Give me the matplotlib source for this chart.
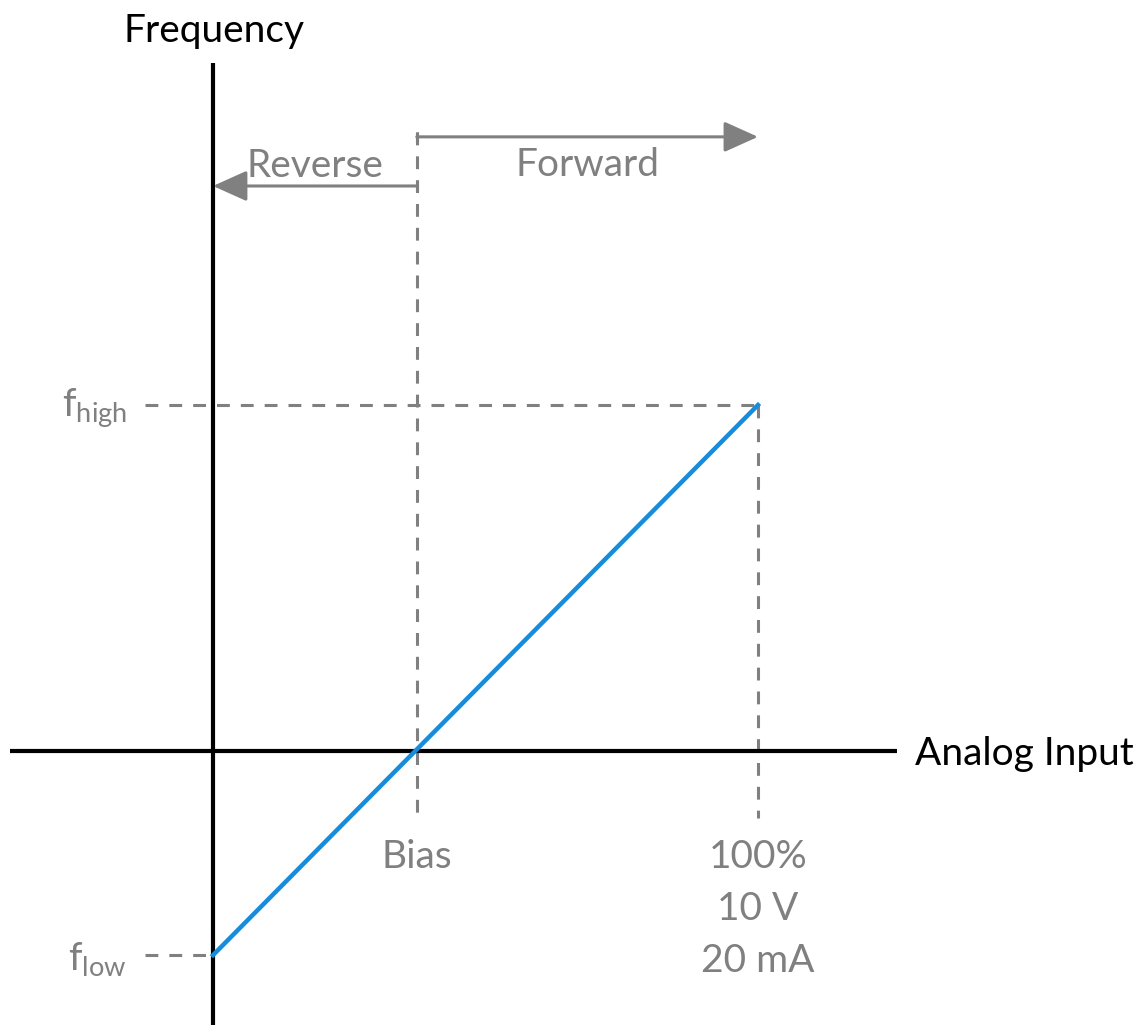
## Import all necessary packages
import matplotlib
matplotlib.use('Agg')
import matplotlib.pyplot as plt
from matplotlib.patches import FancyArrowPatch

## Fonts
plt.rcParams['font.family'] = ['Lato', 'DejaVu Sans']
plt.rcParams['mathtext.fontset'] = 'custom'
plt.rcParams['mathtext.rm'] = 'Lato'
plt.rcParams['mathtext.it'] = 'Lato'

## Data (x: % of analog input, y: frequency, 0 = axis)
input_pts = [0, 100]
freq_pts = [-59, 100]
bias = 37.4
f_high = 100
f_low = -59
x_labels = ['Bias', '100%\n10 V\n20 mA']
y_labels = ['$\\mathrm{f}_{\\mathrm{high}}$', '$\\mathrm{f}_{\\mathrm{low}}$']

gray = '#808080'
blue = '#158cdc'
fs = 28

## Figure covering the whole canvas
fig = plt.figure(figsize=(11.44, 10.25), dpi=100)
ax = fig.add_axes([0, 0, 1, 1])
ax.set_xlim(-39.08, 170.83)
ax.set_ylim(-79.19, 217.05)
ax.axis('off')

## Axes lines
ax.plot([-37.2, 125.5], [0, 0], color='black', lw=3, solid_capstyle='butt', zorder=3)
ax.plot([0, 0], [-79.2, 198.8], color='black', lw=3, solid_capstyle='butt', zorder=3)

## Dashed guide lines
dash = (0, (4.2, 3.6))
ax.plot([bias, bias], [178.9, -19.4], color=gray, lw=2.2, linestyle=dash, zorder=2)
ax.plot([input_pts[1], input_pts[1]], [f_high, -19.4], color=gray, lw=2.2, linestyle=dash, zorder=2)
ax.plot([-12.5, input_pts[1]], [f_high, f_high], color=gray, lw=2.2, linestyle=dash, zorder=2)
ax.plot([-12.5, 0], [f_low, f_low], color=gray, lw=2.2, linestyle=dash, zorder=2)

## Transfer line
ax.plot(input_pts, freq_pts, color=blue, lw=3.2, zorder=4)

## Forward / Reverse arrows
for y0, x1 in [(177.5, 100), (163.3, 0)]:
    arr = FancyArrowPatch((bias, y0), (x1, y0), arrowstyle='-|>,head_length=1.0,head_width=0.45',
                          mutation_scale=21, color=gray, lw=2.2, shrinkA=0, shrinkB=0, zorder=3)
    ax.add_patch(arr)
    ax.plot([bias, bias], [y0 - 1.5, y0 + 1.5], color=gray, lw=2.2, solid_capstyle='butt', zorder=3)

## Texts
ax.text(0.2, 204.9, 'Frequency', fontsize=fs, ha='center', va='baseline', color='black')
ax.text(128.8, -4.0, 'Analog Input', fontsize=fs, ha='left', va='baseline', color='black')
ax.text(18.7, 165.9, 'Reverse', fontsize=fs, ha='center', va='baseline', color=gray)
ax.text(68.8, 166.2, 'Forward', fontsize=fs, ha='center', va='baseline', color=gray)
ax.text(bias, -33.8, x_labels[0], fontsize=fs, ha='center', va='baseline', color=gray)
for i, line in enumerate(x_labels[1].split('\n')):
    ax.text(input_pts[1], -33.8 - 15.05 * i, line, fontsize=fs, ha='center', va='baseline', color=gray)
ax.text(-15.8, 96.5, y_labels[0], fontsize=fs, ha='right', va='baseline', color=gray)
ax.text(-15.8, -63.3, y_labels[1], fontsize=fs, ha='right', va='baseline', color=gray)

plt.savefig('out.png', dpi=100)
